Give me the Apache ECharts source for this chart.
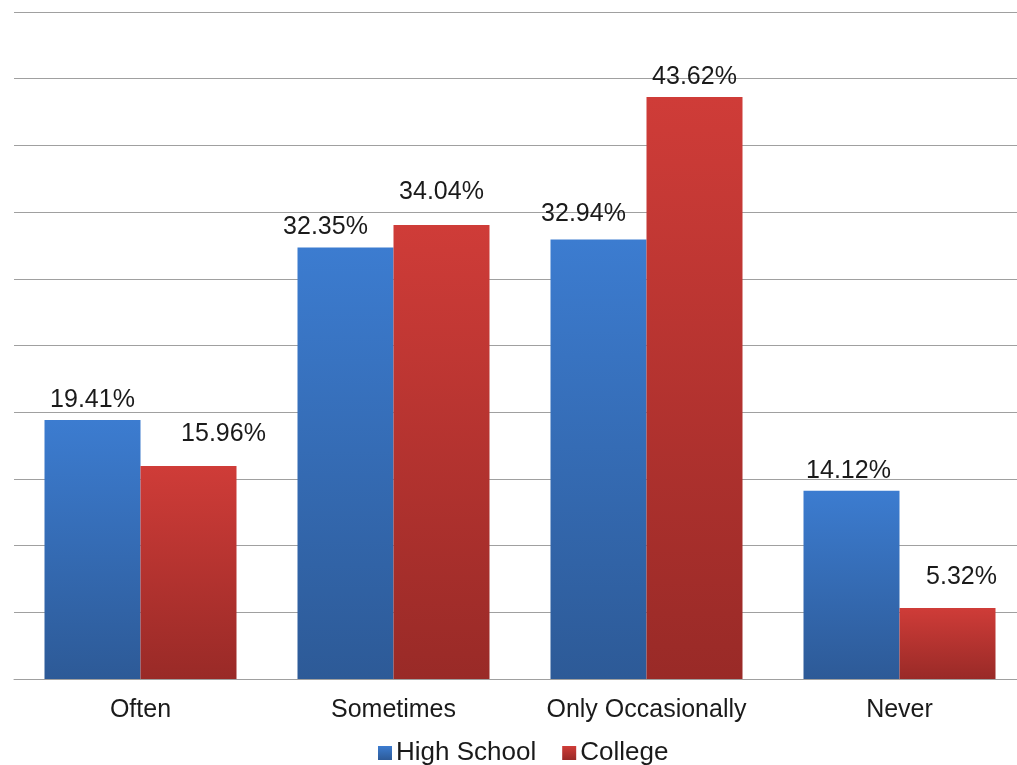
<!DOCTYPE html>
<html>
<head>
<meta charset="utf-8">
<script src="https://cdn.jsdelivr.net/npm/echarts@6/dist/echarts.min.js"></script>
<style>
  html, body { margin: 0; padding: 0; background: #ffffff; overflow: hidden; }
  #chart { width: 1030px; height: 765px; }
</style>
</head>
<body>
<div id="chart"></div>
<script>
// Survey answers by education level (percent of respondents)
const categories = ['Often', 'Sometimes', 'Only Occasionally', 'Never'];
const highSchool = [19.41, 32.35, 32.94, 14.12];
const college = [15.96, 34.04, 43.62, 5.32];

// Hand-placed label nudges [dx, dy] for each bar
const highSchoolLabelShift = [[0, 0], [-20, -1], [-15, -6], [-3, 0]];
const collegeLabelShift = [[35, -12], [0, -13], [0, 0], [14, -11]];

const FONT = 'Liberation Sans, Arial, sans-serif';

function gradient(top, bottom) {
  return new echarts.graphic.LinearGradient(0, 0, 0, 1, [
    { offset: 0, color: top },
    { offset: 1, color: bottom }
  ]);
}

function buildData(values, shifts) {
  return values.map((v, i) => ({
    value: v,
    label: { offset: shifts[i] }
  }));
}

const labelStyle = {
  show: true,
  position: 'top',
  distance: 7,
  fontFamily: FONT,
  fontSize: 25,
  color: '#1a1a1a',
  formatter: p => p.value.toFixed(2) + '%'
};

const chart = echarts.init(document.getElementById('chart'), null, { renderer: 'canvas' });

chart.setOption({
  animation: false,
  backgroundColor: '#ffffff',
  grid: { left: 14, top: 12, width: 1012, height: 667, containLabel: false },
  legend: {
    data: ['High School', 'College'],
    top: 735,
    left: 373,
    icon: 'rect',
    itemWidth: 14,
    itemHeight: 14,
    itemGap: 26,
    textStyle: { fontFamily: FONT, fontSize: 26, color: '#1a1a1a', padding: [0, 0, 0, -1] }
  },
  xAxis: {
    type: 'category',
    data: categories,
    axisLine: { show: true, lineStyle: { color: '#a0a0a0', width: 1 } },
    axisTick: { show: false },
    axisLabel: { interval: 0, fontFamily: FONT, fontSize: 25, color: '#1a1a1a', margin: 19 }
  },
  yAxis: {
    type: 'value',
    min: 0,
    max: 50,
    interval: 5,
    axisLine: { show: false },
    axisTick: { show: false },
    axisLabel: { show: false },
    splitLine: { lineStyle: { color: '#a0a0a0', width: 1 } }
  },
  series: [
    {
      name: 'High School',
      type: 'bar',
      barWidth: 96,
      barGap: '0%',
      data: buildData(highSchool, highSchoolLabelShift),
      itemStyle: { color: gradient('#3c7cd0', '#2d5a97') },
      label: labelStyle
    },
    {
      name: 'College',
      type: 'bar',
      barWidth: 96,
      barGap: '0%',
      data: buildData(college, collegeLabelShift),
      itemStyle: { color: gradient('#cf3c38', '#992a27') },
      label: labelStyle
    }
  ]
});
</script>
</body>
</html>
